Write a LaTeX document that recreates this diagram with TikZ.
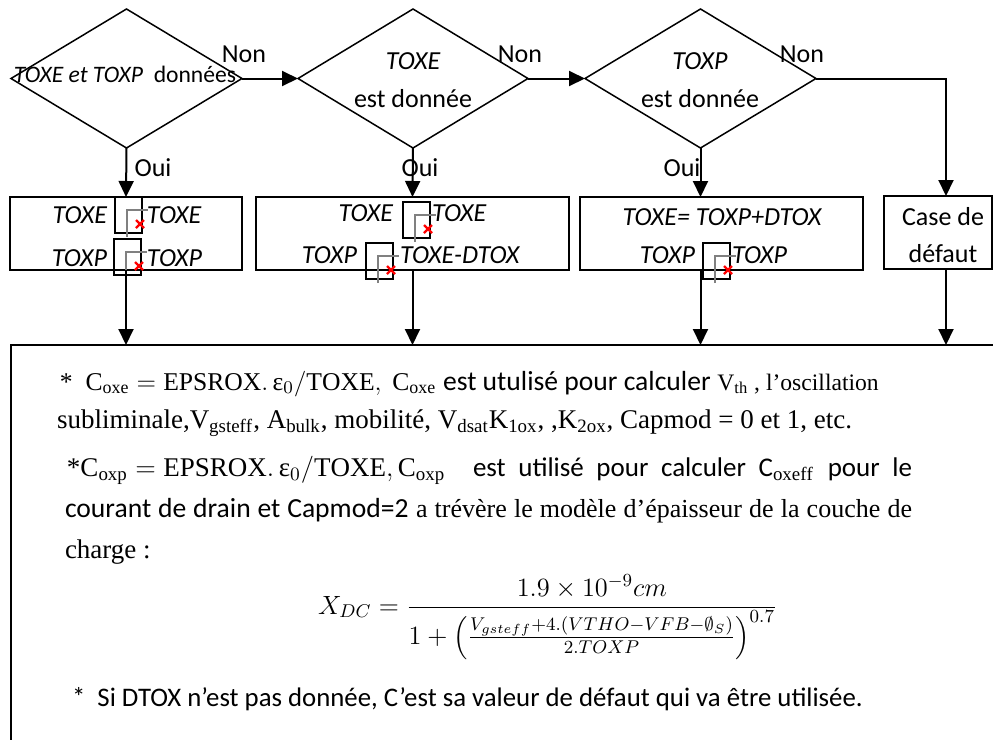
\RequirePackage{fix-cm}
\documentclass[tikz,border=0pt]{standalone}
\usepackage{amsmath}
\usepackage{fontspec}
\setmainfont{Liberation Serif}
\newfontfamily\carl{Carlito}
\usetikzlibrary{positioning, arrows.meta, shapes.geometric, calc}

% broken picture place holder: black frame, grey corner, red cross
\newcommand{\misspic}[2]{%
  \draw[line width=0.75pt] (#1,#2) rectangle ++(27,36);
  \draw[gray, line width=0.75pt] (#1+12,#2+40) |- (#1+33,#2+13);
  \draw[red, line width=1.2pt] (#1+21,#2+23) -- ++(8,8) (#1+29,#2+23) -- ++(-8,8);
}

\begin{document}
\begin{tikzpicture}[x=0.5pt, y=-0.5pt,
    every node/.style={inner sep=0pt, outer sep=0pt},
    flow/.style={font=\carl\fontsize{13}{15}\selectfont},
    cond/.style={draw, line width=0.75pt, diamond, minimum height=69.5pt},
    act/.style={draw, line width=0.75pt, minimum height=36.5pt},
    link/.style={line width=1pt, -{Triangle[length=8pt,width=7.5pt]}},
    body/.style={anchor=base west, font=\fontsize{13.5}{16}\selectfont},
  ]
  \useasboundingbox (0,0) rectangle (993,740);
  \clip (0,0) rectangle (993,740);

  % tests
  \node[cond, minimum width=115.5pt] (d1) at (126.5,78.5) {};
  \node[cond, minimum width=115pt] (d2) at (413,78.5) {};
  \node[cond, minimum width=115.5pt] (d3) at (700.5,78.5) {};
  \node[flow, anchor=base, font=\carl\fontsize{11.8}{14}\selectfont] (d1t) at (125,82)
    {\itshape TOXE et TOXP\ \ \upshape données};
  \node[flow, anchor=base] (d2a) at (413,69) {\itshape TOXE};
  \node[flow, anchor=base] (d2b) at (413,107) {est donnée};
  \node[flow, anchor=base] (d3a) at (700,69) {\itshape TOXP};
  \node[flow, anchor=base] (d3b) at (700,107) {est donnée};
  \node[flow, anchor=base] (non1) at (244,62) {Non};
  \node[flow, anchor=base] (non2) at (520,62) {Non};
  \node[flow, anchor=base] (non3) at (802,62) {Non};
  \node[flow, anchor=base] (oui1) at (153,176) {Oui};
  \node[flow, anchor=base] (oui2) at (420,176) {Oui};
  \node[flow, anchor=base] (oui3) at (682,176) {Oui};

  % actions
  \node[act, minimum width=116pt] (b1) at (126,233.5) {};
  \node[act, minimum width=156.5pt] (b2) at (412.5,233.5) {};
  \node[act, minimum width=141.5pt] (b3) at (721.5,233.5) {};
  \node[act, minimum width=54pt] (b4) at (938,232.5) {};
  \node[flow, anchor=base east] (b1a) at (107,223) {\itshape TOXE};
  \node[flow, anchor=base west] (b1b) at (147,223) {\itshape TOXE};
  \node[flow, anchor=base east] (b1c) at (107,266) {\itshape TOXP};
  \node[flow, anchor=base west] (b1d) at (147,266) {\itshape TOXP};
  \node[flow, anchor=base east] (b2a) at (393,221) {\itshape TOXE};
  \node[flow, anchor=base west] (b2b) at (432,221) {\itshape TOXE};
  \node[flow, anchor=base east] (b2c) at (357,263) {\itshape TOXP};
  \node[flow, anchor=base west] (b2d) at (400,263) {\itshape TOXE-DTOX};
  \node[flow, anchor=base] (b3a) at (722,225) {\itshape TOXE= TOXP+DTOX};
  \node[flow, anchor=base east] (b3c) at (695,263) {\itshape TOXP};
  \node[flow, anchor=base west] (b3d) at (732,263) {\itshape TOXP};
  \node[flow, anchor=base] (b4a) at (943,225) {Case de};
  \node[flow, anchor=base] (b4b) at (943,262) {défaut};
  \misspic{115}{197}
  \misspic{114}{239}
  \misspic{403}{202}
  \misspic{366}{243}
  \misspic{703}{243}

  % note box
  \node[draw, line width=1pt, anchor=north west, minimum width=499.5pt,
        minimum height=207.5pt] (big) at (11,345) {};
  \node[body] (l1) at (60,390)
    {{\fontsize{12.8}{16}\selectfont*\ \ $\mathrm{C_{oxe}}=\mathrm{EPSROX.}\,\text{ε}_0/\mathrm{TOXE},\ \mathrm{C_{oxe}}$}
     {\carl\fontsize{13.8}{16}\selectfont est utulisé pour calculer}
     {\fontsize{11.8}{14}\selectfont$\mathrm{V_{th}}$ , l’oscillation}};
  \node[body] (l2) at (57,428)
    {subliminale,$\mathrm{V_{gsteff}}$, $\mathrm{A_{bulk}}$, mobilité, $\mathrm{V_{dsat}K_{1ox}}$, ,$\mathrm{K_{2ox}}$, Capmod = 0 et 1, etc.};
  \node[body] (l3) at (67,476)
    {\makebox[422.5pt][s]{\mbox{*$\mathrm{C_{oxp}}=\mathrm{EPSROX.}\,\text{ε}_0/\mathrm{TOXE},\mathrm{C_{oxp}}$}\ \
     {\carl est utilisé pour calculer C}$_{\mathrm{oxeff}}$ {\carl pour le}}};
  \node[body] (l4) at (65,517)
    {\makebox[423.5pt][s]{{\carl\fontsize{13.8}{16}\selectfont courant de drain et Capmod=2}
     {\fontsize{13}{16}\selectfont a trévère le modèle d’épaisseur de la couche de}}};
  \node[body] (l5) at (65,558) {charge :};
  \node[anchor=base west, font=\fontsize{13.2}{16}\selectfont] (xdc) at (318,614)
    {$X_{DC}=\dfrac{1.9\times10^{-9}cm}{1+\left(\frac{V_{gsteff}+4.(VTHO-VFB-\emptyset_S)}{2.TOXP}\right)^{0.7}}$};
  \node[body, font=\carl\fontsize{13.4}{16}\selectfont] (l7) at (72,706)
    {*\ \ Si DTOX n’est pas donnée, C’est sa valeur de défaut qui va être utilisée.};

  % connectors
  \draw[link] (d1.east) -- (d2.west);
  \draw[link] (d2.east) -- (d3.west);
  \draw[link] (d3.east) -| ([xshift=4pt]b4.north);
  \draw[link] (d1.south) -- (b1.north);
  \draw[link] (d2.south) -- (b2.north);
  \draw[link] (d3.south) -- (d3.south |- b3.north);
  \draw[link] (b1.south) -- (b1.south |- big.north);
  \draw[link] (b2.south) -- (b2.south |- big.north);
  \draw[link] (d3.south |- b3.south) -- (d3.south |- big.north);
  \draw[link] ([xshift=4pt]b4.south) -- ([xshift=4pt]b4.south |- big.north);
\end{tikzpicture}
\end{document}
